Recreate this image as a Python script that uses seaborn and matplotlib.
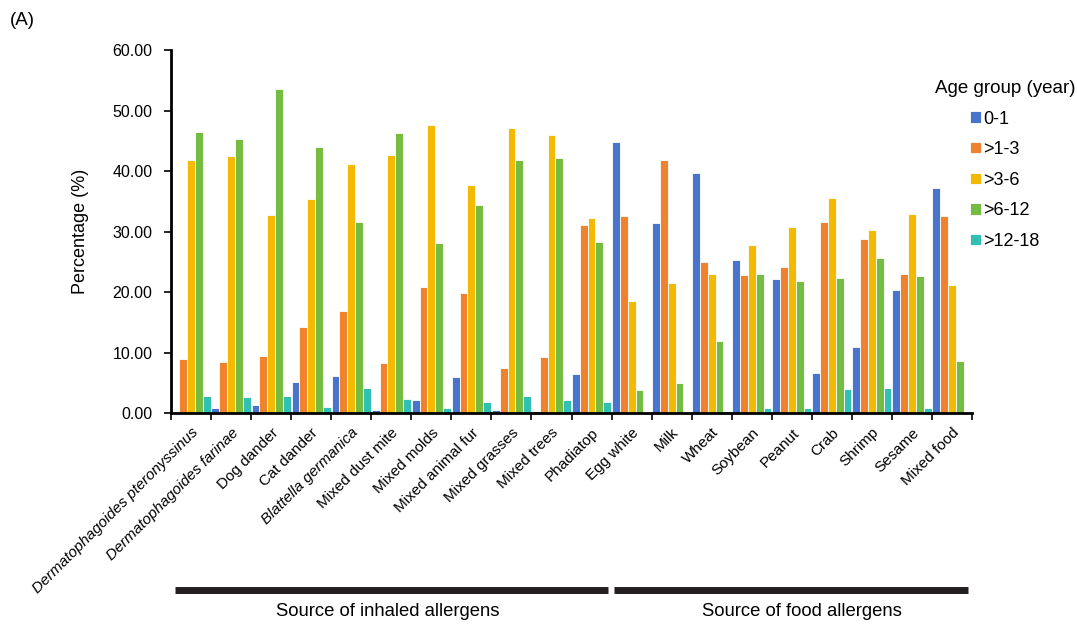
import matplotlib
matplotlib.use("Agg")
import matplotlib.pyplot as plt
from matplotlib.ticker import FixedLocator, FormatStrFormatter
import numpy as np
import pandas as pd
import seaborn as sns

# Allergen sources (x-axis categories)
allergens = [
    "Dermatophagoides pteronyssinus", "Dermatophagoides farinae", "Dog dander",
    "Cat dander", "Blattella germanica", "Mixed dust mite", "Mixed molds",
    "Mixed animal fur", "Mixed grasses", "Mixed trees", "Phadiatop",
    "Egg white", "Milk", "Wheat", "Soybean", "Peanut", "Crab", "Shrimp",
    "Sesame", "Mixed food",
]
italic_names = ["Dermatophagoides pteronyssinus", "Dermatophagoides farinae",
                "Blattella germanica"]

age_groups = ["0-1", ">1-3", ">3-6", ">6-12", ">12-18"]

# Percentage of positive results per age group
age_0_1 = [0.0, 0.9, 1.4, 5.2, 6.2, 0.5, 2.2, 6.0, 0.5, 0.3, 6.4,
           44.8, 31.5, 39.7, 25.3, 22.1, 6.6, 10.9, 20.4, 37.2]
age_1_3 = [8.9, 8.5, 9.4, 14.3, 16.8, 8.2, 20.9, 19.8, 7.4, 9.2, 31.1,
           32.6, 41.8, 24.9, 22.9, 24.1, 31.6, 28.8, 23.0, 32.5]
age_3_6 = [41.8, 42.5, 32.7, 35.4, 41.1, 42.6, 47.7, 37.7, 47.1, 45.9, 32.2,
           18.5, 21.5, 23.0, 27.8, 30.7, 35.5, 30.3, 32.9, 21.1]
age_6_12 = [46.5, 45.3, 53.6, 44.0, 31.6, 46.3, 28.1, 34.4, 41.9, 42.1, 28.3,
            3.8, 5.0, 11.9, 23.0, 21.9, 22.3, 25.6, 22.6, 8.6]
age_12_18 = [2.8, 2.6, 2.8, 1.0, 4.1, 2.3, 0.8, 1.8, 2.8, 2.1, 1.9,
             0.0, 0.0, 0.3, 0.8, 0.8, 3.9, 4.1, 0.8, 0.2]

source_groups = ["Source of inhaled allergens", "Source of food allergens"]
group_sizes = [11, 9]

colors = ["#4874CB", "#EE822F", "#F2BA02", "#75BD42", "#30C0B4"]

series = [age_0_1, age_1_3, age_3_6, age_6_12, age_12_18]
df = pd.DataFrame({
    "Allergen": np.tile(allergens, len(age_groups)),
    "Age": np.repeat(age_groups, len(allergens)),
    "Percentage": np.concatenate(series),
})

plt.rcParams["font.family"] = ["Liberation Sans", "DejaVu Sans"]

fig = plt.figure(figsize=(10.77, 6.27), dpi=100)
ax = fig.add_axes([0.1588, 0.3413, 0.9025 - 0.1588, 0.920 - 0.3413])

sns.barplot(data=df, x="Allergen", y="Percentage", hue="Age",
            hue_order=age_groups, order=allergens, palette=colors,
            saturation=1, width=0.98, edgecolor="white", linewidth=0.6,
            ax=ax)

ax.set_xlim(-0.5, len(allergens) - 0.5)
ax.set_ylim(0, 60)
ax.set_yticks(np.arange(0, 61, 10))
ax.yaxis.set_major_formatter(FormatStrFormatter("%.2f"))
ax.tick_params(axis="y", labelsize=11.5, length=5, width=1.2, direction="out",
               colors="black", pad=8.5)
ax.set_ylabel("Percentage (%)", fontsize=13, labelpad=17)
ax.set_xlabel("")

# category labels at centres, tick marks between categories
ax.set_xticks(range(len(allergens)))
ax.set_xticklabels(allergens, rotation=45, ha="right", va="top",
                   rotation_mode="anchor", fontsize=11)
for lbl in ax.get_xticklabels():
    if lbl.get_text() in italic_names:
        lbl.set_fontstyle("italic")
ax.tick_params(axis="x", which="major", length=0, pad=9)
ax.xaxis.set_minor_locator(FixedLocator(np.arange(-0.5, len(allergens), 1.0)))
ax.tick_params(axis="x", which="minor", length=5, width=1.2, direction="out")

for side in ["top", "right"]:
    ax.spines[side].set_visible(False)
for side in ["left", "bottom"]:
    ax.spines[side].set_linewidth(2)
    ax.spines[side].set_color("black")

# group brackets under the category labels
trans = ax.get_xaxis_transform()
label_x = [4.9, 15.25]
start = -0.5
for name, size, tx in zip(source_groups, group_sizes, label_x):
    end = start + size
    x0 = start + 0.1 if start < 0 else start + 0.05
    x1 = end - 0.1
    ax.plot([x0, x1], [-0.4876, -0.4876], transform=trans, color="#231F20",
            linewidth=5, solid_capstyle="butt", clip_on=False)
    ax.text(tx, -0.548, name, transform=trans,
            ha="center", va="center", fontsize=13.3)
    start = end

leg = ax.legend(title="Age group (year)", loc="upper center",
                bbox_to_anchor=(1005 / 1077, 1 - 71 / 627),
                bbox_transform=fig.transFigure, frameon=False, fontsize=13,
                title_fontsize=13.5, handlelength=0.6, handleheight=0.6,
                handletextpad=0.15, labelspacing=0.75, borderpad=0)
leg._legend_box.align = "center"

fig.text(0.009, 0.968, "(A)", fontsize=13.5, ha="left", va="center")

fig.savefig("out.png", dpi=100)
